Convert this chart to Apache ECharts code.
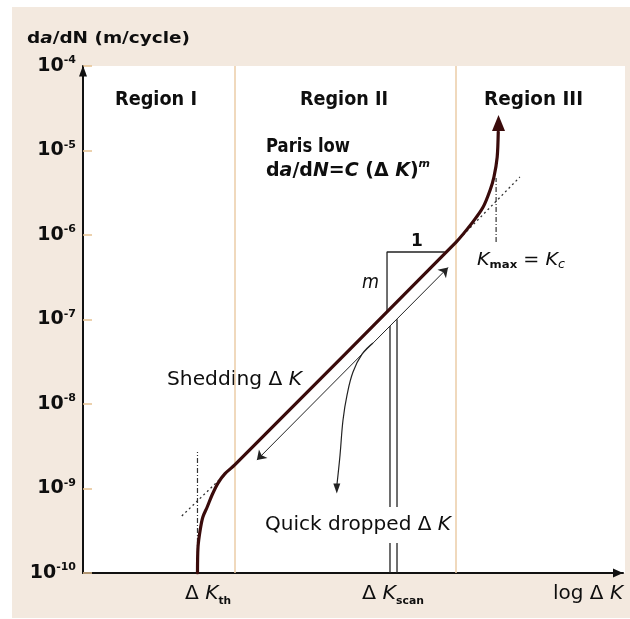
<!DOCTYPE html>
<html>
<head>
<meta charset="utf-8">
<script src="https://cdn.jsdelivr.net/npm/echarts@6/dist/echarts.min.js"></script>
<style>html,body{margin:0;padding:0;background:#fff}#c{width:630px;height:619px}</style>
</head>
<body>
<div id="c"></div>
<script>
// ---------------- data (x: log ΔK in arbitrary units 0..100, y: da/dN in m/cycle) ----------------
const yMin = 1e-10;
const yMax = 1e-4;
const xMin = 0;
const xMax = 100;
const regionBounds = [28.15, 69.07];
const crackCurveX = [21.2, 21.3, 21.7, 22.2, 23.0, 23.9, 25.0, 26.3, 28.1, 69.1, 72.2, 74.1, 75.4, 76.1, 76.7, 76.9];
const crackCurveY = [1e-10, 2.03e-10, 3.23e-10, 4.6e-10, 6.04e-10, 8.38e-10, 1.16e-9, 1.5e-9, 1.9e-9, 8.26e-7, 1.43e-6, 2.14e-6, 3.41e-6, 4.86e-6, 8.37e-6, 1.66e-5];
const crackTip = [76.95, 2.12e-5];
const parisLowX = [18.3, 28.1];
const parisLowY = [4.73e-10, 1.9e-9];
const parisHighX = [69.1, 80.9];
const parisHighY = [8.26e-7, 4.85e-6];
const thresholdX = [21.2, 21.2];
const thresholdY = [1e-10, 2.7e-9];
const criticalX = [76.5, 76.5];
const criticalY = [8.26e-7, 4.73e-6];
const slopeX = [56.3, 56.3, 67.0];
const slopeY = [1.24e-7, 6.29e-7, 6.29e-7];
const sheddingX = [32.2, 67.6];
const sheddingY = [2.17e-9, 4.12e-7];
const scanLeftX = [56.85, 56.85];
const scanLeftY = [1e-10, 8.38e-8];
const scanRightX = [58.15, 58.15];
const scanRightY = [1e-10, 1.01e-7];
const dropX = [53.7, 51.7, 50.0, 48.9, 48.15, 47.6, 47.0];
const dropY = [5.27e-8, 3.91e-8, 2.39e-8, 1.28e-8, 6.47e-9, 2.49e-9, 1.07e-9];
const dropTip = [47.0, 1.0e-9];

// ---------------- helpers ----------------
const FONT = '"DejaVu Sans", sans-serif';
const INK = '#0e0e0e';
const pairs = (xs, ys) => xs.map((x, i) => [x, ys[i]]);
const mctx = document.createElement('canvas').getContext('2d');
const STY = {
  B16: {fontSize: 16, fontWeight: 'bold', lineHeight: 20},
  BI16: {fontSize: 16, fontWeight: 'bold', fontStyle: 'italic', lineHeight: 20},
  B20: {fontSize: 20, fontWeight: 'bold', lineHeight: 24},
  B19: {fontSize: 19, fontWeight: 'bold', lineHeight: 24},
  BI19: {fontSize: 19, fontWeight: 'bold', fontStyle: 'italic', lineHeight: 24},
  supBI: {fontSize: 11, fontWeight: 'bold', fontStyle: 'italic', verticalAlign: 'top', lineHeight: 10},
  R20: {fontSize: 20, lineHeight: 24},
  I20: {fontSize: 20, fontStyle: 'italic', lineHeight: 24},
  R18: {fontSize: 18, lineHeight: 22},
  I18: {fontSize: 18, fontStyle: 'italic', lineHeight: 22},
  subR: {fontSize: 11, fontWeight: 'bold', verticalAlign: 'bottom', lineHeight: 14},
  subI: {fontSize: 12, fontStyle: 'italic', verticalAlign: 'bottom', lineHeight: 14},
  R19: {fontSize: 19, lineHeight: 24},
  I19: {fontSize: 19, fontStyle: 'italic', lineHeight: 24},
  subB: {fontSize: 10, fontWeight: 'bold', verticalAlign: 'bottom', lineHeight: 14},
  B17: {fontSize: 17, fontWeight: 'bold', lineHeight: 20}
};
function fontOf(s) {
  return (s.fontStyle || 'normal') + ' ' + (s.fontWeight || 'normal') + ' ' + s.fontSize + 'px ' + FONT;
}
function makeText(runs, x0, x1, cy, extra, z) {
  const rich = {};
  let str = '', width = 0;
  runs.forEach(([t, k]) => {
    const s = STY[k];
    rich[k] = Object.assign({fontFamily: FONT}, s);
    mctx.font = fontOf(s);
    width += mctx.measureText(t).width;
    str += '{' + k + '|' + t + '}';
  });
  const sx = (x1 != null) ? (x1 - x0) / width : 1;
  const pad = extra && extra.padding ? extra.padding[1] : 0;
  return {
    type: 'text', x: x0 - pad * sx, y: cy, scaleX: sx, z: z != null ? z : 100,
    style: Object.assign({
      text: str, rich: rich, fill: INK, fontFamily: FONT,
      align: 'left', verticalAlign: 'middle', textAlign: 'left', textVerticalAlign: 'middle'
    }, extra || {})
  };
}

const texts = [
  makeText([['d', 'B16'], ['a', 'BI16'], ['/dN (m/cycle)', 'B16']], 27, 190, 39),
  makeText([['Region I', 'B20']], 115, 197, 100),
  makeText([['Region II', 'B20']], 300, 388, 100),
  makeText([['Region III', 'B20']], 484, 583, 100),
  makeText([['Paris low', 'B19']], 266, 350, 147),
  makeText([['d', 'B19'], ['a', 'BI19'], ['/d', 'B19'], ['N', 'BI19'], ['=', 'B19'], ['C', 'BI19'], [' (\u0394 ', 'B19'], ['K', 'BI19'], [')', 'B19'], ['m', 'supBI']], 266, 430, 171),
  makeText([['Shedding \u0394 ', 'R20'], ['K', 'I20']], 167, 302, 380, {backgroundColor: '#fff', padding: [5, 1]}, 4),
  makeText([['Quick dropped \u0394 ', 'R20'], ['K', 'I20']], 265, 451, 525, {backgroundColor: '#fff', padding: [6, 2]}, 4),
  makeText([['K', 'I18'], ['max', 'subR'], [' = ', 'R18'], ['K', 'I18'], ['c', 'subI']], 477, 565, 260),
  makeText([['1', 'B17']], 411, null, 242),
  makeText([['m', 'I19']], 362, 379, 283),
  makeText([['\u0394 ', 'R19'], ['K', 'I19'], ['th', 'subB']], 185, 231, 594),
  makeText([['\u0394 ', 'R19'], ['K', 'I19'], ['scan', 'subB']], 362, 424, 594),
  makeText([['log \u0394 ', 'R19'], ['K', 'I19']], 553, 623, 594)
];

const chart = echarts.init(document.getElementById('c'), null, {renderer: 'canvas'});
const option = {
  animation: false,
  backgroundColor: '#ffffff',
  grid: {left: 83, top: 66, width: 540, height: 507, containLabel: false, outerBoundsMode: 'none'},
  xAxis: {
    type: 'value', min: xMin, max: xMax,
    axisLine: {show: true, symbol: ['none', 'triangle'], symbolSize: [9, 10], symbolOffset: [0, -5], lineStyle: {color: '#111', width: 2}},
    axisTick: {show: false}, axisLabel: {show: false}, splitLine: {show: false}
  },
  yAxis: {
    type: 'log', logBase: 10, min: yMin, max: yMax, splitNumber: 6,
    axisLine: {show: true, symbol: ['none', 'triangle'], symbolSize: [8, 11], symbolOffset: [0, -5], lineStyle: {color: '#111', width: 2}},
    axisTick: {show: true, inside: true, length: 9, lineStyle: {color: '#e6c293', width: 1.5}},
    splitLine: {show: false},
    axisLabel: {
      margin: 7,
      formatter: function (v) {
        const e = Math.round(Math.log10(v));
        return '{b|10}{s|' + (e < 0 ? '-' + (-e) : e) + '}';
      },
      rich: {
        b: {fontSize: 19, fontWeight: 'bold', fontFamily: FONT, color: INK, lineHeight: 22},
        s: {fontSize: 11, fontWeight: 'bold', fontFamily: FONT, color: INK, verticalAlign: 'top', lineHeight: 10}
      }
    }
  },
  graphic: [
    {type: 'rect', z: -100, shape: {x: 12, y: 7, width: 618, height: 611}, style: {fill: '#f3e9df'}, silent: true},
    {type: 'rect', z: -99, shape: {x: 83, y: 66, width: 542, height: 507}, style: {fill: '#ffffff'}, silent: true}
  ].concat(texts),
  series: [
    {
      type: 'line', data: [], z: 1, silent: true,
      markLine: {silent: true, symbol: 'none', label: {show: false},
        lineStyle: {color: '#ebcda7', width: 1.5, type: 'solid'},
        data: regionBounds.map(v => ({xAxis: v}))}
    },
    {type: 'line', data: pairs(parisLowX, parisLowY), symbol: 'none', z: 2, lineStyle: {type: [2, 3], color: '#333', width: 1.3}},
    {type: 'line', data: pairs(parisHighX, parisHighY), symbol: 'none', z: 2, lineStyle: {type: [2, 3], color: '#333', width: 1.3}},
    {type: 'line', data: pairs(thresholdX, thresholdY), symbol: 'none', z: 2, lineStyle: {type: [5, 2, 1, 2], color: '#333', width: 1.2}},
    {type: 'line', data: pairs(criticalX, criticalY), symbol: 'none', z: 2, lineStyle: {type: [5, 2, 1, 2], color: '#333', width: 1.2}},
    {type: 'line', data: pairs(slopeX, slopeY), symbol: 'none', z: 2, lineStyle: {color: '#222', width: 1.3}},
    {type: 'line', data: pairs(scanLeftX, scanLeftY), symbol: 'none', z: 2, lineStyle: {color: '#222', width: 1.3}},
    {type: 'line', data: pairs(scanRightX, scanRightY), symbol: 'none', z: 2, lineStyle: {color: '#222', width: 1.3}},
    {
      type: 'line', data: [], z: 2, silent: true,
      markLine: {silent: true, symbol: ['arrow', 'arrow'], symbolSize: [9, 9], label: {show: false},
        lineStyle: {color: '#222', width: 1, type: 'solid'},
        data: [[{coord: [sheddingX[0], sheddingY[0]]}, {coord: [sheddingX[1], sheddingY[1]]}]]}
    },
    {type: 'line', data: pairs(dropX, dropY), symbol: 'none', smooth: 0.4, z: 2, lineStyle: {color: '#222', width: 1.2}},
    {type: 'scatter', data: [dropTip], symbol: 'triangle', symbolRotate: 180, symbolSize: [7, 10], z: 3, itemStyle: {color: '#222', opacity: 1}},
    {type: 'line', data: pairs(crackCurveX, crackCurveY), symbol: 'none', smooth: 0.3, z: 5, lineStyle: {color: '#3a0b0b', width: 3.2, cap: 'round', join: 'round'}},
    {type: 'scatter', data: [crackTip], symbol: 'triangle', symbolSize: [13, 16], z: 6, itemStyle: {color: '#3a0b0b', opacity: 1}}
  ]
};
chart.setOption(option);
</script>
</body>
</html>
